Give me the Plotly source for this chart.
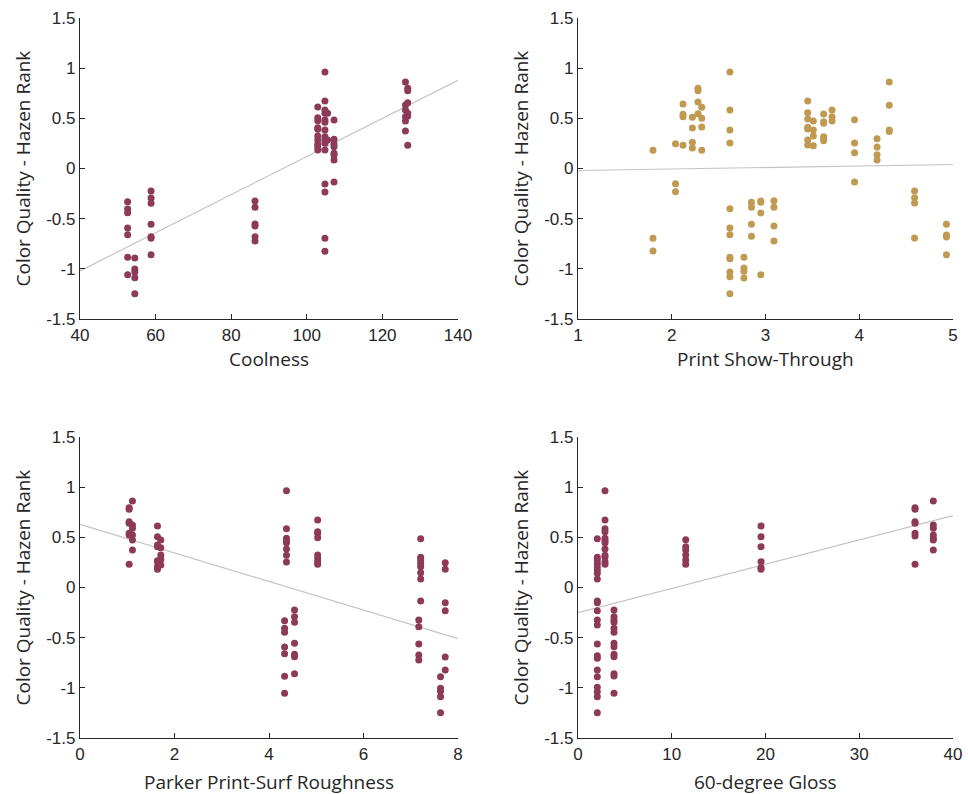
import plotly.graph_objects as go

# ---------------- data ----------------
# Panel 1: Coolness vs Hazen rank
cool_x = [52.6]*7 + [54.5]*5 + [58.8]*7 + [86.3]*6 + [102.9]*10 + [104.8]*15 + [105.5]*2 + [107.2]*8 + [126.1]*6 + [126.7]*6
cool_y = [-0.331, -0.404, -0.44, -0.593, -0.66, -0.885, -1.059,
          -0.892, -1.002, -1.032, -1.088, -1.248,
          -0.224, -0.294, -0.347, -0.556, -0.68, -0.696, -0.859,
          -0.324, -0.387, -0.553, -0.573, -0.68, -0.723,
          0.613, 0.506, 0.476, 0.407, 0.39, 0.324, 0.284, 0.241, 0.217, 0.184,
          0.962, 0.673, 0.583, 0.55, 0.483, 0.46, 0.384, 0.317, 0.284, 0.251, 0.184, -0.155, -0.234, -0.696, -0.825,
          0.55, 0.284,
          0.483, 0.291, 0.244, 0.217, 0.151, 0.135, 0.085, -0.135,
          0.862, 0.633, 0.583, 0.516, 0.473, 0.374,
          0.80, 0.775, 0.656, 0.55, 0.523, 0.231]

# Panel 2: Print Show-Through
show_x = ([1.80]*3 + [2.04]*3 + [2.12]*4 + [2.22]*4 + [2.28]*4 + [2.32]*4 + [2.62]*12 + [2.77]*4 +
          [2.85]*4 + [2.95]*4 + [3.09]*4 + [3.45]*7 + [3.51]*4 + [3.62]*6 + [3.71]*3 + [3.95]*4 +
          [4.19]*4 + [4.32]*4 + [4.59]*4 + [4.93]*4)
show_y = [0.181, -0.696, -0.822,
          0.247, -0.152, -0.231,
          0.643, 0.54, 0.516, 0.231,
          0.51, 0.404, 0.261, 0.204,
          0.80, 0.775, 0.663, 0.546,
          0.61, 0.50, 0.414, 0.181,
          0.962, 0.583, 0.384, 0.254, -0.40, -0.593, -0.66, -0.885, -0.899, -1.032, -1.078, -1.248,
          -0.885, -0.992, -1.025, -1.091,
          -0.337, -0.387, -0.556, -0.676,
          -0.324, -0.337, -0.444, -1.059,
          -0.321, -0.387, -0.573, -0.723,
          0.673, 0.556, 0.493, 0.41, 0.394, 0.284, 0.234,
          0.473, 0.384, 0.324, 0.227,
          0.543, 0.467, 0.45, 0.317, 0.30, 0.277,
          0.583, 0.516, 0.473,
          0.487, 0.254, 0.157, -0.135,
          0.297, 0.214, 0.137, 0.085,
          0.862, 0.63, 0.384, 0.37,
          -0.224, -0.291, -0.344, -0.693,
          -0.556, -0.663, -0.683, -0.859]

# Panel 3: Parker Print-Surf Roughness
rough_x = ([1.04]*7 + [1.11]*6 + [1.64]*8 + [1.71]*5 + [4.37]*8 + [4.33]*7 + [4.54]*7 + [5.03]*8 +
           [7.21]*8 + [7.17]*5 + [7.73]*6 + [7.63]*5)
rough_y = [0.795, 0.779, 0.656, 0.64, 0.54, 0.523, 0.231,
           0.862, 0.623, 0.59, 0.523, 0.473, 0.374,
           0.613, 0.506, 0.424, 0.407, 0.267, 0.257, 0.207, 0.181,
           0.473, 0.397, 0.324, 0.28, 0.224,
           0.965, 0.586, 0.49, 0.467, 0.447, 0.384, 0.321, 0.254,
           -0.331, -0.407, -0.447, -0.593, -0.66, -0.885, -1.055,
           -0.224, -0.291, -0.347, -0.556, -0.666, -0.69, -0.859,
           0.673, 0.556, 0.54, 0.496, 0.324, 0.29, 0.257, 0.231,
           0.487, 0.301, 0.274, 0.241, 0.207, 0.147, 0.085, -0.135,
           -0.324, -0.391, -0.563, -0.673, -0.723,
           0.247, 0.181, -0.151, -0.231, -0.693, -0.822,
           -0.889, -1.005, -1.035, -1.088, -1.248]

# Panel 4: 60-degree Gloss
gloss_x = [2.06]*22 + [2.88]*12 + [3.84]*13 + [11.49]*6 + [19.52]*6 + [35.95]*7 + [37.9]*7
gloss_y = [0.487, 0.301, 0.274, 0.241, 0.207, 0.174, 0.141, 0.085, -0.135, -0.151, -0.231, -0.324,
           -0.374, -0.563, -0.68, -0.706, -0.822, -0.889, -0.995, -1.038, -1.088, -1.248,
           0.965, 0.673, 0.586, 0.556, 0.49, 0.467, 0.447, 0.384, 0.321, 0.301, 0.254, 0.231,
           -0.224, -0.291, -0.324, -0.347, -0.407, -0.447, -0.556, -0.59, -0.666, -0.69, -0.859, -0.882, -1.055,
           0.477, 0.407, 0.374, 0.324, 0.274, 0.231,
           0.613, 0.506, 0.407, 0.257, 0.197, 0.181,
           0.795, 0.779, 0.656, 0.64, 0.54, 0.513, 0.231,
           0.862, 0.623, 0.59, 0.523, 0.49, 0.473, 0.374]

# Fitted regression lines (value at start of x-range, slope)
fit_slope = [0.019, 0.015, -0.1425, 0.02415]
fit_start_y = [-1.02, -0.02, 0.63, -0.25]

x_titles = ["Coolness", "Print Show-Through", "Parker Print-Surf Roughness", "60-degree Gloss"]
y_title = "Color Quality - Hazen Rank"
x_ranges = [[40, 140], [1, 5], [0, 8], [0, 40]]
x_ticks = [[40, 60, 80, 100, 120, 140], [1, 2, 3, 4, 5], [0, 2, 4, 6, 8], [0, 10, 20, 30, 40]]
y_ticks = [-1.5, -1, -0.5, 0, 0.5, 1, 1.5]
y_ticktext = ["-1.5", "-1", "-0.5", "0", "0.5", "1", "1.5"]

maroon = "#8C3A58"
gold = "#C19A52"
colors = [maroon, gold, maroon, maroon]

xs = [cool_x, show_x, rough_x, gloss_x]
ys = [cool_y, show_y, rough_y, gloss_y]

W, H = 968, 794
col_px = [(80, 458), (578, 953)]
row_px = [(18, 319), (437, 738)]
xtitle_px = [359, 782]   # centre of x-title per row

fig = go.Figure()
title_font = dict(family="Open Sans, sans-serif", size=19, color="#262626")
tick_font = dict(family="Liberation Sans", size=17, color="#262626")

annotations = []
for i in range(4):
    r, c = divmod(i, 2)
    xa = "x" if i == 0 else f"x{i+1}"
    ya = "y" if i == 0 else f"y{i+1}"
    x0, x1 = x_ranges[i]
    lx = [x0, x1]
    ly = [fit_start_y[i], fit_start_y[i] + fit_slope[i] * (x1 - x0)]
    fig.add_trace(go.Scatter(x=lx, y=ly, mode="lines", line=dict(color="#C4C4C4", width=1.2),
                             xaxis=xa, yaxis=ya, showlegend=False, hoverinfo="skip"))
    fig.add_trace(go.Scatter(x=xs[i], y=ys[i], mode="markers",
                             marker=dict(color=colors[i], size=7, line=dict(width=0)),
                             xaxis=xa, yaxis=ya, showlegend=False, cliponaxis=False))
    cx = col_px[c]
    ry = row_px[r]
    xdom = [cx[0] / W, cx[1] / W]
    ydom = [1 - ry[1] / H, 1 - ry[0] / H]
    xkey = "xaxis" if i == 0 else f"xaxis{i+1}"
    ykey = "yaxis" if i == 0 else f"yaxis{i+1}"
    fig.update_layout(**{
        xkey: dict(domain=xdom, range=x_ranges[i], anchor=ya, tickvals=x_ticks[i],
                   showline=True, linecolor="#262626", linewidth=1.2, mirror=False,
                   ticks="inside", ticklen=5, tickcolor="#262626", showgrid=False, zeroline=False,
                   tickfont=tick_font, automargin=False),
        ykey: dict(domain=ydom, range=[-1.5, 1.5], anchor=xa, tickvals=y_ticks, ticktext=y_ticktext,
                   showline=True, linecolor="#262626", linewidth=1.2, mirror=False,
                   ticks="inside", ticklen=5, tickcolor="#262626", showgrid=False, zeroline=False,
                   tickfont=tick_font, automargin=False),
    })
    annotations.append(dict(text=x_titles[i], xref="paper", yref="paper",
                            x=(cx[0] + cx[1]) / 2 / W, y=1 - xtitle_px[r] / H,
                            xanchor="center", yanchor="middle", showarrow=False, font=title_font))
    annotations.append(dict(text=y_title, xref="paper", yref="paper",
                            x=(cx[0] - 58) / W, y=1 - (ry[0] + ry[1]) / 2 / H,
                            xanchor="center", yanchor="middle", textangle=-90, showarrow=False,
                            font=title_font))

fig.update_layout(width=W, height=H, margin=dict(l=0, r=0, t=0, b=0),
                  plot_bgcolor="white", paper_bgcolor="white", showlegend=False,
                  annotations=annotations)

fig.write_html("out.html")
